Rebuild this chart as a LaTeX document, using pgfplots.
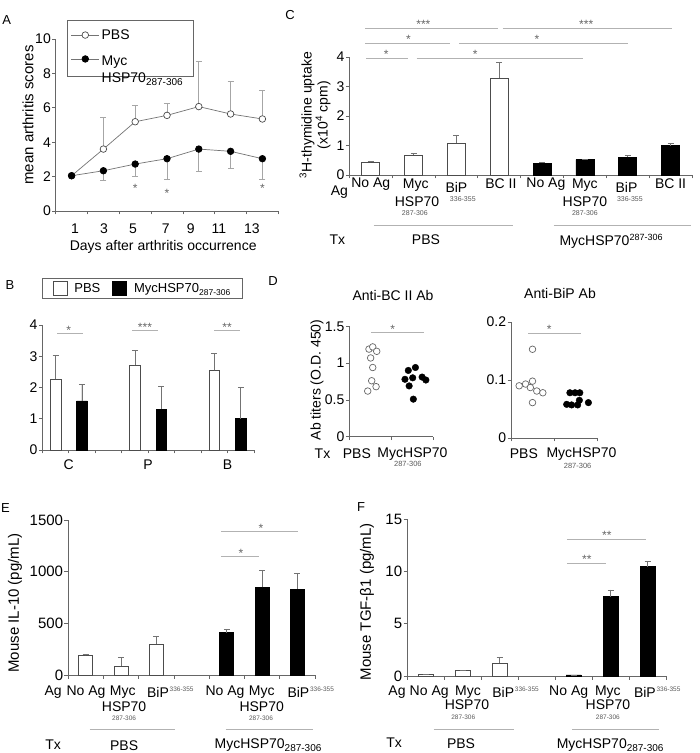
\documentclass[border=0pt]{standalone}
\usepackage{fontspec}
\setmainfont{Liberation Sans}
\usepackage{pgfplots}
\pgfplotsset{compat=1.18}
\newcommand{\fs}[1]{\fontsize{#1}{#1}\selectfont}
\colorlet{axc}{black!60}
\colorlet{sigc}{black!30}
\colorlet{errc}{black!55}
\pgfplotsset{
 base/.style={scale only axis, anchor=south west, clip=false,
   axis lines*=left,
   axis line style={draw=axc, line width=0.7pt},
   every tick/.style={draw=axc, line width=0.7pt},
   tick align=outside, major tick length=3.5pt,
   tick label style={font=\fs{14}, inner sep=1.2pt},
   scaled ticks=false,
   /pgf/number format/assume math mode=true,
   /pgf/number format/1000 sep={},
 },
 eb/.style={/pgfplots/error bars/y dir=plus, /pgfplots/error bars/y explicit,
   /pgfplots/error bars/error bar style={draw=errc, line width=0.7pt},
   /pgfplots/error bars/error mark options={draw=errc, line width=0.7pt, mark size=3pt, rotate=90}},
 pbsbar/.style={ybar, bar shift=0pt, fill=white, draw=black!70, line width=0.7pt, eb},
 mycbar/.style={ybar, bar shift=0pt, fill=black, draw=black, line width=0.7pt, eb},
 sqlegend/.style={legend image code/.code={\draw[##1] (0pt,-6.5pt) rectangle (14pt,7pt);}},
 lnlegend/.style={legend image code/.code={\draw[mark repeat=2,mark phase=2,##1] plot coordinates {(0pt,0pt) (14pt,0pt) (28pt,0pt)};}},
}
\tikzset{
 lab/.style={font=\fs{14}, inner sep=0pt},
 tiny/.style={font=\fs{6.5}, text=black!65, inner sep=0pt},
 sig/.style={draw=sigc, line width=0.7pt},
 star/.style={font=\fs{12}, text=black!60, inner sep=0pt},
 plab/.style={font=\fs{13}, inner sep=0pt},
}
\newcommand{\lbl}[3]{\node[lab] at (axis cs:#1,0) [yshift=#2pt] {#3};}
\newcommand{\tlbl}[3]{\node[tiny] at (axis cs:#1,0) [yshift=#2pt] {#3};}
% BiP with a small index just right of it
\newcommand{\bip}[2]{\node[lab] at (axis cs:#1,0) [yshift=#2pt] {BiP};
  \node[tiny, anchor=west] at (axis cs:#1,0) [xshift=11.5pt, yshift=#2pt+3pt] {336-355};}
\newcommand{\sigline}[5]{\draw[sig] (axis cs:#1,#3) -- (axis cs:#2,#3); \node[star] at (axis cs:#4,#3) [yshift=3.5pt] {#5};}

\begin{document}
\begin{tikzpicture}
\path[use as bounding box] (0,0) rectangle (700pt,753pt);

% panel letters
\node[plab] at (6.7pt,733pt) {A};
\node[plab] at (10pt,468pt) {B};
\node[plab] at (290pt,738pt) {C};
\node[plab] at (273pt,472pt) {D};
\node[plab] at (5.5pt,245pt) {E};
\node[plab] at (361pt,246pt) {F};

% ---------------- A ----------------
\begin{axis}[base, at={(55.7pt,542pt)}, width=222.6pt, height=172pt,
  xmin=-0.5, xmax=6.5, ymin=0, ymax=10, ytick={0,2,...,10},
  xtick={-0.5,0.5,...,6.5}, xticklabels={},
  extra x ticks={0.11,1.02,1.93,2.96,3.75,4.63,5.67},
  extra x tick labels={1,3,5,7,9,11,13},
  extra x tick style={major tick length=0pt, tick label style={yshift=-11.5pt}},
  legend style={at={(rel axis cs:0.049,1.11)}, anchor=north west, draw=axc, line width=0.7pt,
     font=\fs{14}, inner xsep=4pt, inner ysep=7pt, row sep=6pt, cells={anchor=west},
     nodes={inner xsep=2pt}},
]
\addplot[lnlegend, draw=black!55, line width=0.7pt, mark=*, mark size=3.3pt,
   mark options={fill=white, draw=black!70, line width=0.7pt},
   /pgfplots/error bars/y dir=plus, /pgfplots/error bars/y explicit,
   /pgfplots/error bars/error bar style={draw=black!35, line width=0.7pt},
   /pgfplots/error bars/error mark options={draw=black!35, line width=0.7pt, mark size=3pt, rotate=90}]
 coordinates {(0,2.05) +- (0,0) (1,3.60) +- (0,1.83) (2,5.19) +- (0,0.97) (3,5.56) +- (0,0.70)
              (4,6.07) +- (0,2.65) (5,5.64) +- (0,1.90) (6,5.35) +- (0,1.68)};
\addlegendentry{PBS}
\addplot[lnlegend, draw=black!55, line width=0.7pt, mark=*, mark size=3.3pt,
   mark options={fill=black, draw=black},
   /pgfplots/error bars/y dir=minus, /pgfplots/error bars/y explicit,
   /pgfplots/error bars/error bar style={draw=black!35, line width=0.7pt},
   /pgfplots/error bars/error mark options={draw=black!35, line width=0.7pt, mark size=3pt, rotate=90}]
 coordinates {(0,2.05) +- (0,0) (1,2.34) +- (0,0.54) (2,2.73) +- (0,0.73) (3,3.04) +- (0,1.18)
              (4,3.60) +- (0,1.31) (5,3.47) +- (0,0.99) (6,3.04) +- (0,1.18)};
\addlegendentry{\begin{tabular}[t]{@{}l@{}}\rule{0pt}{15pt}Myc\\[3pt]HSP70\raisebox{-3pt}{\fs{10}287-306}\hspace*{5pt}\end{tabular}}
\node[star] at (axis cs:2,1.45) [yshift=-2.5pt] {*};
\node[star] at (axis cs:3,1.16) [yshift=-2.5pt] {*};
\node[star] at (axis cs:6,1.48) [yshift=-2.5pt] {*};
\node[lab, font=\fs{15}, rotate=90] at (rel axis cs:-0.124,0.558) {mean arthritis scores};
\node[lab] at (rel axis cs:0.483,-0.209) {Days after arthritis occurrence};
\end{axis}

% ---------------- B ----------------
\begin{axis}[base, at={(42.3pt,303pt)}, width=211.7pt, height=125pt,
  xmin=-0.5, xmax=7.5, ymin=0, ymax=4, ytick={0,...,4},
  xtick={-0.5,0.5,...,7.5}, xticklabels={}, bar width=10.7pt,
  legend columns=2,
  legend style={at={(rel axis cs:0,1.374)}, anchor=north west, draw=axc, line width=0.7pt,
     font=\fs{13}, inner xsep=10pt, inner ysep=2.5pt,
     /tikz/every odd column/.append style={column sep=5pt},
     /tikz/every even column/.append style={column sep=10pt}},
]
\addplot[pbsbar, sqlegend] coordinates {(0,2.27) +- (0,0.76) (3,2.71) +- (0,0.48) (6,2.55) +- (0,0.54)};
\addlegendentry{PBS}
\addplot[mycbar, sqlegend] coordinates {(1,1.57) +- (0,0.52) (4,1.30) +- (0,0.73) (7,1.00) +- (0,0.99)};
\addlegendentry{MycHSP70\raisebox{-3pt}{\fs{8.5}287-306}}
\sigline{0.06}{1.04}{3.73}{0.5}{*}
\sigline{2.89}{3.87}{3.82}{3.38}{***}
\sigline{5.99}{6.97}{3.82}{6.48}{**}
\lbl{0.5}{-15}{C}
\lbl{3.5}{-15}{P}
\lbl{6.5}{-15}{B}
\end{axis}

% ---------------- C ----------------
\begin{axis}[base, at={(349.3pt,578pt)}, width=342.7pt, height=118pt,
  xmin=-0.5, xmax=7.5, ymin=0, ymax=4, ytick={0,...,4},
  xtick={-0.5,0.5,...,7.5}, xticklabels={}, bar width=18pt]
\addplot[pbsbar] coordinates {(0,0.43) +- (0,0.046) (1,0.68) +- (0,0.06) (2,1.08) +- (0,0.28) (3,3.29) +- (0,0.53)};
\addplot[mycbar] coordinates {(4,0.40) +- (0,0.03) (5,0.52) +- (0,0.01) (6,0.60) +- (0,0.07) (7,0.99) +- (0,0.09)};
\sigline{-0.13}{2.96}{4.98}{1.23}{***}
\sigline{3.08}{7.04}{4.98}{5.03}{***}
\sigline{-0.13}{1.84}{4.47}{0.88}{*}
\sigline{2.07}{6.01}{4.47}{3.88}{*}
\sigline{-0.10}{0.88}{3.97}{0.36}{*}
\sigline{1.07}{4.96}{3.97}{2.44}{*}
\node[lab, rotate=90, align=center] at (rel axis cs:-0.100,0.508) {\textsuperscript{3}H-thymidine uptake\\(x10\textsuperscript{4} cpm)};
\lbl{-0.73}{-17}{Ag}
\lbl{0}{-9}{No Ag}
\lbl{1.05}{-10}{Myc}
\lbl{1.08}{-27}{HSP70}
\node[tiny, font=\fs{7}] at (axis cs:1.03,0) [yshift=-38pt] {287-306};
\lbl{2.0}{-12}{BiP}
\node[tiny, font=\fs{7}] at (axis cs:2.15,0) [yshift=-24pt] {336-355};
\lbl{3.04}{-9}{BC II}
\lbl{4.09}{-9}{No Ag}
\lbl{5.0}{-10}{Myc}
\lbl{5.0}{-27}{HSP70}
\node[tiny, font=\fs{7}] at (axis cs:5.0,0) [yshift=-38pt] {287-306};
\lbl{5.97}{-12}{BiP}
\node[tiny, font=\fs{7}] at (axis cs:6.05,0) [yshift=-24pt] {336-355};
\lbl{7.0}{-9}{BC II}
\draw[sig] (axis cs:-0.43,0) ++(0,-50pt) -- ([yshift=-50pt]axis cs:3.31,0);
\draw[sig] (axis cs:3.77,0) ++(0,-50pt) -- ([yshift=-50pt]axis cs:7.48,0);
\lbl{-0.78}{-65}{Tx}
\lbl{1.29}{-65}{PBS}
\lbl{5.61}{-66}{MycHSP70\raisebox{5pt}{\fs{9}287-306}}
\end{axis}

% ---------------- D1 ----------------
\begin{axis}[base, at={(349.3pt,316.3pt)}, width=83.7pt, height=110.4pt,
  xmin=-0.5, xmax=1.5, ymin=0, ymax=1.5, ytick={0,0.5,1,1.5},
  xtick={-0.5,0.5,1.5}, xticklabels={}]
\addplot[only marks, mark=*, mark size=3.3pt, mark options={fill=white, draw=black!60, line width=0.7pt}]
 coordinates {(-0.03,1.19) (0.06,1.22) (0.155,1.16) (0.01,1.07) (0.06,0.94) (0.035,0.76) (0.14,0.68) (-0.06,0.62)};
\addplot[only marks, mark=*, mark size=3.3pt, mark options={fill=black, draw=black}]
 coordinates {(0.91,0.90) (1.08,0.94) (0.83,0.78) (1.015,0.80) (1.24,0.81) (1.33,0.77) (0.93,0.69) (1.03,0.51)};
\sigline{0.02}{1.28}{1.415}{0.54}{*}
\node[lab] at (rel axis cs:0.522,1.283) {Anti-BC II Ab};
\node[lab, rotate=90] at (rel axis cs:-0.386,0.514) {Ab titers (O.D. 450)};
\lbl{-1.14}{-17}{Tx}
\lbl{-0.32}{-17}{PBS}
\lbl{1.01}{-17}{MycHSP70}
\node[tiny, font=\fs{7.5}] at (axis cs:0.90,0) [yshift=-27.5pt] {287-306};
\end{axis}

% ---------------- D2 ----------------
\begin{axis}[base, at={(511pt,315pt)}, width=86pt, height=116pt,
  xmin=-0.5, xmax=1.5, ymin=0, ymax=0.2, ytick={0,0.1,0.2},
  yticklabel style={/pgf/number format/fixed},
  xtick={-0.5,0.5,1.5}, xticklabels={}]
\addplot[only marks, mark=*, mark size=3.3pt, mark options={fill=white, draw=black!60, line width=0.7pt}]
 coordinates {(0,0.153) (0,0.098) (-0.31,0.090) (-0.16,0.093) (-0.05,0.087) (0.10,0.081) (0.24,0.078) (0,0.061)};
\addplot[only marks, mark=*, mark size=3.3pt, mark options={fill=black, draw=black}]
 coordinates {(0.87,0.078) (0.99,0.078) (1.10,0.078) (0.795,0.058) (0.91,0.057) (1.05,0.057) (1.09,0.065) (1.30,0.061)};
\sigline{-0.1}{1.13}{0.181}{0.39}{*}
\node[lab] at (rel axis cs:0.57,1.25) {Anti-BiP Ab};
\lbl{-0.2}{-16}{PBS}
\lbl{1.14}{-16}{MycHSP70}
\node[tiny, font=\fs{7.5}] at (axis cs:1.05,0) [yshift=-27.5pt] {287-306};
\end{axis}

% ---------------- E ----------------
\begin{axis}[base, at={(68pt,78pt)}, width=247pt, height=155pt,
  xmin=-0.5, xmax=6.5, ymin=0, ymax=1500, ytick={0,500,1000,1500},
  tick label style={font=\fs{15}},
  xtick={-0.5,0.5,...,6.5}, xticklabels={}, bar width=14pt]
\addplot[pbsbar] coordinates {(0,190) +- (0,13) (1,84) +- (0,87) (2,300) +- (0,74)};
\addplot[mycbar] coordinates {(4,410) +- (0,29) (5,848) +- (0,162) (6,832) +- (0,152)};
\sigline{3.83}{4.91}{1145}{4.4}{*}
\sigline{3.83}{6.02}{1387}{4.97}{*}
\node[lab, font=\fs{15}, rotate=90] at (rel axis cs:-0.215,0.465) {Mouse IL-10 (pg/mL)};
\lbl{-0.92}{-17}{Ag}
\lbl{0.01}{-17}{No Ag}
\lbl{1.05}{-17}{Myc}
\lbl{1.09}{-32}{HSP70}
\tlbl{1.09}{-43}{287-306}
\bip{2.05}{-17}
\lbl{3.95}{-17}{No Ag}
\lbl{4.99}{-17}{Myc}
\lbl{4.99}{-32}{HSP70}
\tlbl{4.97}{-43}{287-306}
\bip{6.03}{-17}
\draw[sig] (axis cs:-0.39,0) ++(0,-54pt) -- ([yshift=-54pt]axis cs:2.53,0);
\draw[sig] (axis cs:3.47,0) ++(0,-54pt) -- ([yshift=-54pt]axis cs:6.44,0);
\lbl{-0.92}{-70}{Tx}
\lbl{1.09}{-71}{PBS}
\lbl{5.17}{-70}{MycHSP70\raisebox{-3pt}{\fs{10}287-306}}
\end{axis}

% ---------------- F ----------------
\begin{axis}[base, at={(407pt,77pt)}, width=259pt, height=157pt,
  xmin=-0.5, xmax=6.5, ymin=0, ymax=15, ytick={0,5,10,15},
  tick label style={font=\fs{15}},
  xtick={-0.5,0.5,...,6.5}, xticklabels={}, bar width=15pt]
\addplot[pbsbar] coordinates {(0,0.16) +- (0,0) (1,0.54) +- (0,0) (2,1.25) +- (0,0.51)};
\addplot[mycbar] coordinates {(4,0.10) +- (0,0) (5,7.58) +- (0,0.64) (6,10.46) +- (0,0.51)};
\sigline{3.82}{4.88}{10.78}{4.36}{**}
\sigline{3.82}{5.96}{13.08}{4.9}{**}
\node[lab, font=\fs{15}, rotate=90] at (rel axis cs:-0.154,0.473) {Mouse TGF-β1 (pg/mL)};
\lbl{-0.77}{-16}{Ag}
\lbl{0.1}{-16}{No Ag}
\lbl{1.15}{-16}{Myc}
\lbl{1.12}{-29}{HSP70}
\tlbl{1.02}{-41}{287-306}
\bip{2.1}{-16}
\lbl{3.87}{-16}{No Ag}
\lbl{4.93}{-16}{Myc}
\lbl{4.93}{-29}{HSP70}
\tlbl{4.93}{-41}{287-306}
\bip{5.93}{-16}
\draw[sig] (axis cs:-0.28,0) ++(0,-53pt) -- ([yshift=-53pt]axis cs:2.39,0);
\draw[sig] (axis cs:3.47,0) ++(0,-53pt) -- ([yshift=-53pt]axis cs:6.31,0);
\lbl{-0.85}{-67}{Tx}
\lbl{0.96}{-68}{PBS}
\lbl{4.99}{-69}{MycHSP70\raisebox{-3pt}{\fs{10}287-306}}
\end{axis}
\end{tikzpicture}
\end{document}
